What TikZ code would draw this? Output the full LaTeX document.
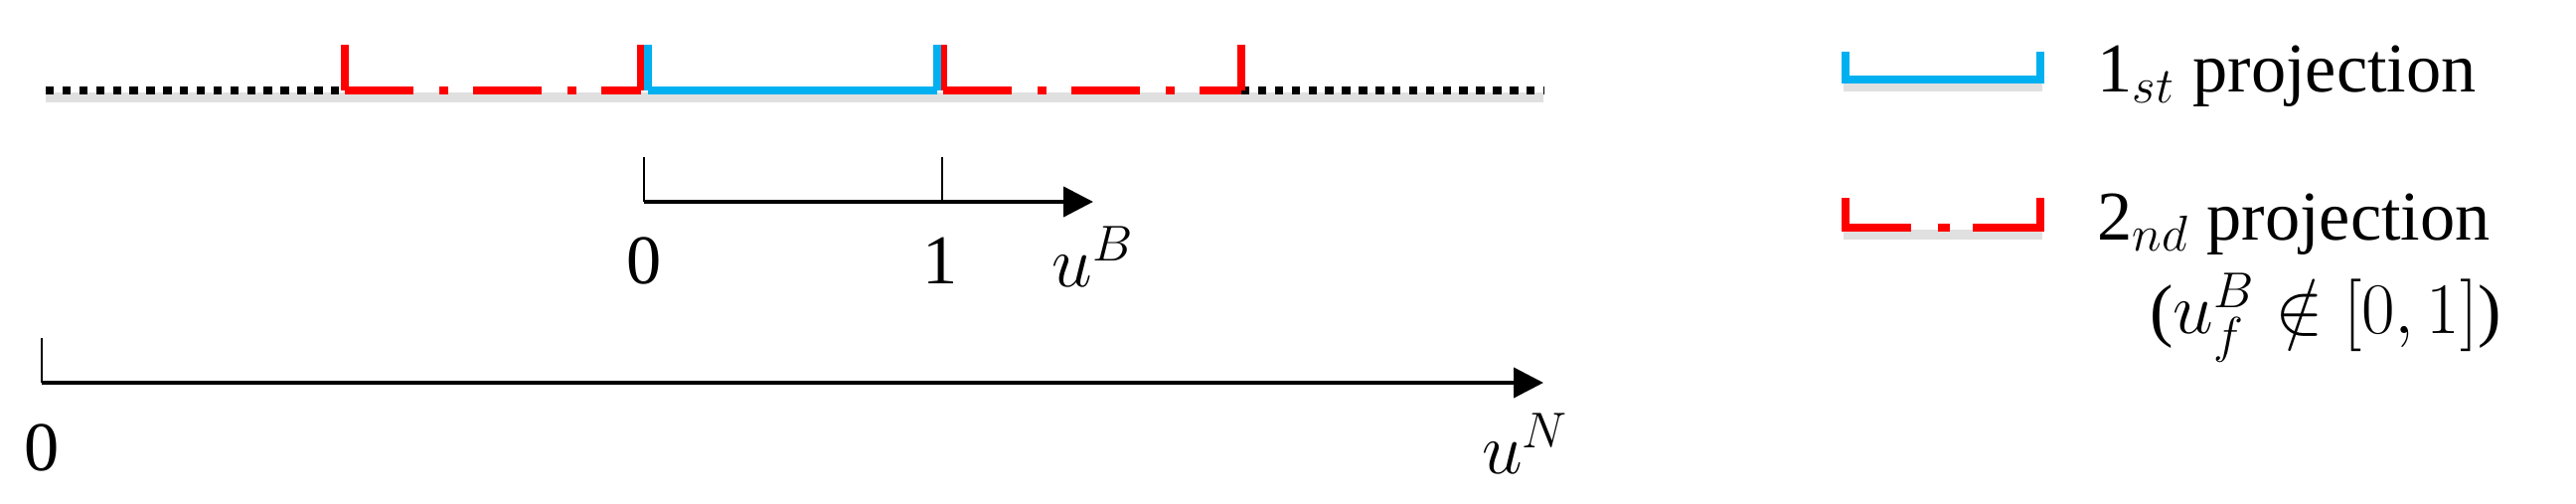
\documentclass[tikz,border=0pt]{standalone}
\usepackage{fontspec}
\setmainfont{Liberation Serif}
\usetikzlibrary{arrows.meta}
\begin{document}
\begin{tikzpicture}[x=0.01cm,y=-0.01cm,
  lbl/.style={font=\fontsize{20}{24}\selectfont, inner sep=0pt},
  blk/.style={line width=2.2pt,dash pattern=on 2.4pt off 2.4pt},
  bluebr/.style={line width=2.3pt,color={rgb,255:red,0;green,176;blue,240}},
  redbr/.style={line width=2.3pt,color={rgb,255:red,255;green,0;blue,0}},
  reddash/.style={redbr,dash pattern=on 0.69cm off 0.26cm on 0.09cm off 0.25cm},
  shad/.style={line width=3pt,color=black!12},
  axis/.style={line width=1.2pt,-{Triangle[length=0.3cm,width=0.3cm]}},
  tick/.style={line width=0.8pt}]
\useasboundingbox (0,0) rectangle (2592,507);
% coordinates
\coordinate (L) at (46,91);  \coordinate (R) at (1553,91);
\coordinate (r1) at (347,91); \coordinate (r2) at (645,91);
\coordinate (r3) at (949,91); \coordinate (r4) at (1249,91);
\coordinate (b1) at (652,91); \coordinate (b2) at (943,91);
% shadows
\draw[shad] (46,98) -- (1553,98);
% black dashes
\draw[blk] (L) -- (r1);
\draw[blk] (r4) -- (R);
% red parts
\draw[reddash] (r1) -- (r2);
\draw[reddash] (r3) -- (r4);
\draw[redbr] (r1) -- ++(0,-46);
\draw[redbr] (r2) -- ++(0,-46);
\draw[redbr] (r3) -- ++(0,-46);
\draw[redbr] (r4) -- ++(0,-46);
% blue
\draw[bluebr] (b1) -- (b2);
\draw[bluebr] (b1) -- ++(0,-46);
\draw[bluebr] (b2) -- ++(0,-46);
% u^B axis
\coordinate (a0) at (648,203); \coordinate (a1) at (948,203); \coordinate (aE) at (1100,203);
\draw[axis] (a0) -- (aE);
\draw[tick] (a0) -- ++(0,-45);
\draw[tick] (a1) -- ++(0,-45);
\node[lbl] (n0) at (648,262) {0};
\node[lbl] (n1) at (946,262) {1};
\node[lbl] (uB) at (1100,258) {$u^B$};
% u^N axis
\coordinate (c0) at (42,385); \coordinate (cE) at (1553,385);
\draw[axis] (c0) -- (cE);
\draw[tick] (c0) -- ++(0,-45);
\node[lbl] (m0) at (42,450) {0};
\node[lbl] (uN) at (1535,446) {$u^N$};
% legend
\draw[shad] (1855,87) -- (2055,87);
\draw[bluebr] (1857,52) |- (2053,80) -- (2053,52);
\node[lbl,anchor=base west] (t1) at (2110,93) {1$_{st}$ projection};
\draw[shad] (1855,236) -- (2055,236);
\draw[redbr] (1857,199) |- (1923,229);
\draw[redbr] (1950,229) -- (1962,229);
\draw[redbr] (1985,229) -- (2053,229) -- (2053,199);
\node[lbl,anchor=base west] (t2) at (2110,242) {2$_{nd}$ projection};
\node[lbl,anchor=base] (t3) at (2340,336) {($u_f^B\notin[0,1]$)};
\end{tikzpicture}
\end{document}
